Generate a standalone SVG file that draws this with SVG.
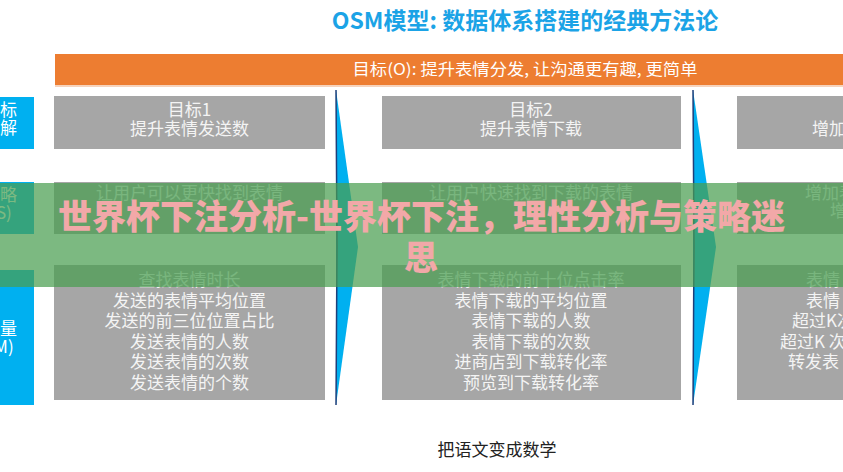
<svg xmlns="http://www.w3.org/2000/svg" width="843" height="472" viewBox="0 0 843 472">
<style>
.cjk{font-family:"Noto Sans CJK SC","Liberation Sans",sans-serif}
.title{font-size:23px;font-weight:bold;fill:#1BA3E6}
.bar{fill:#ED7D31}
.bartxt{font-size:16px;fill:#FFFFFF}
.gbox{fill:#A6A6A6}
.bbox{fill:#00B0F0}
.gt{font-size:17px;fill:#F4F4F4;text-anchor:middle}
.bt{font-size:17px;fill:#FFFFFF;text-anchor:middle}
.ft{font-size:17px;fill:#F4F4F4}
.arrow{fill:#00B0F0}
.edge{stroke:#1F3F7A;stroke-width:1.5;fill:none}
.banner{fill:rgb(74,158,81);fill-opacity:0.72}
.bannertxt{font-size:34px;font-weight:900;fill:#F2A8A8;text-anchor:middle}
.foot{font-size:17px;fill:#222222;text-anchor:middle}
</style>
<rect width="843" height="472" fill="#FFFFFF"/>
<g id="title"><text class="cjk title" x="525" y="29" text-anchor="middle">OSM模型: 数据体系搭建的经典方法论</text></g>
<g id="objective">
<rect class="bar" x="55" y="54" width="788" height="31"/>
<rect x="55" y="85" width="788" height="2" fill="#F6D3BC"/>
<text class="cjk bartxt" x="525" y="75" text-anchor="middle" textLength="345" lengthAdjust="spacingAndGlyphs">目标(O): 提升表情分发, 让沟通更有趣, 更简单</text>
</g>
<g id="label-goal"><rect class="bbox" x="0" y="97" width="34" height="52"/>
<text class="cjk bt" x="0" y="116">目标</text><text class="cjk bt" x="0" y="134">拆解</text></g>
<g id="label-strategy"><rect class="bbox" x="0" y="182" width="34" height="52"/>
<text class="cjk bt" x="0" y="201">策略</text><text class="cjk bt" x="1" y="219">(S)</text></g>
<g id="label-measure"><rect class="bbox" x="0" y="270" width="34" height="135"/>
<text class="cjk bt" x="0" y="335">度量</text><text class="cjk bt" x="1" y="353">(M)</text></g>
<g id="connectors">
<polygon class="arrow" points="336,90 358,247 336,405"/>
<polyline class="edge" points="336,90 337,247 336,405"/>
<polygon class="arrow" points="693,90 716,247 693,405"/>
<polyline class="edge" points="693,90 694,247 693,405"/>
</g>
<g id="goal-1"><rect class="gbox" x="54" y="96" width="271" height="53"/>
<text class="cjk gt" x="189.5" y="116">目标1</text><text class="cjk gt" x="189.5" y="135">提升表情发送数</text></g>
<g id="goal-2"><rect class="gbox" x="382" y="96" width="299" height="53"/>
<text class="cjk gt" x="531" y="116">目标2</text><text class="cjk gt" x="531" y="135">提升表情下载</text></g>
<g id="goal-3"><rect class="gbox" x="737" y="96" width="110" height="53"/>
<text class="cjk ft" x="812" y="135">增加</text></g>
<g id="strategy-1"><rect class="gbox" x="54" y="182" width="271" height="52"/>
<text class="cjk gt" x="189.5" y="199">让用户可以更快找到表情</text></g>
<g id="strategy-2"><rect class="gbox" x="382" y="182" width="299" height="52"/>
<text class="cjk gt" x="531" y="199">让用户快速找到下载的表情</text></g>
<g id="strategy-3"><rect class="gbox" x="737" y="182" width="110" height="52"/>
<text class="cjk ft" x="805" y="199">增加表</text><text class="cjk ft" x="830" y="217">增</text></g>
<g id="measure-1"><rect class="gbox" x="54" y="265" width="271" height="135"/>
<text class="cjk gt" x="189.5" y="286">查找表情时长</text>
<text class="cjk gt" x="189.5" y="306.6">发送的表情平均位置</text>
<text class="cjk gt" x="189.5" y="327.2">发送的前三位位置占比</text>
<text class="cjk gt" x="189.5" y="347.8">发送表情的人数</text>
<text class="cjk gt" x="189.5" y="368.4">发送表情的次数</text>
<text class="cjk gt" x="189.5" y="389">发送表情的个数</text></g>
<g id="measure-2"><rect class="gbox" x="382" y="265" width="299" height="135"/>
<text class="cjk gt" x="531" y="286">表情下载的前十位点击率</text>
<text class="cjk gt" x="531" y="306.6">表情下载的平均位置</text>
<text class="cjk gt" x="531" y="327.2">表情下载的人数</text>
<text class="cjk gt" x="531" y="347.8">表情下载的次数</text>
<text class="cjk gt" x="531" y="368.4">进商店到下载转化率</text>
<text class="cjk gt" x="531" y="389">预览到下载转化率</text></g>
<g id="measure-3"><rect class="gbox" x="737" y="265" width="110" height="135"/>
<text class="cjk ft" x="806" y="286">表情</text>
<text class="cjk ft" x="806" y="306.6">表情</text>
<text class="cjk ft" x="792" y="327.2">超过K次</text>
<text class="cjk ft" x="780" y="347.8">超过K 次</text>
<text class="cjk ft" x="788" y="368.4">转发表</text></g>
<g id="footer"><text class="cjk foot" x="497" y="456">把语文变成数学</text></g>
<g id="banner">
<rect class="banner" x="0" y="183" width="843" height="104"/>
<text class="cjk bannertxt" x="421.5" y="229" textLength="727" lengthAdjust="spacingAndGlyphs">世界杯下注分析-世界杯下注，理性分析与策略迷</text>
<text class="cjk bannertxt" x="421" y="270">思</text>
</g>
</svg>
